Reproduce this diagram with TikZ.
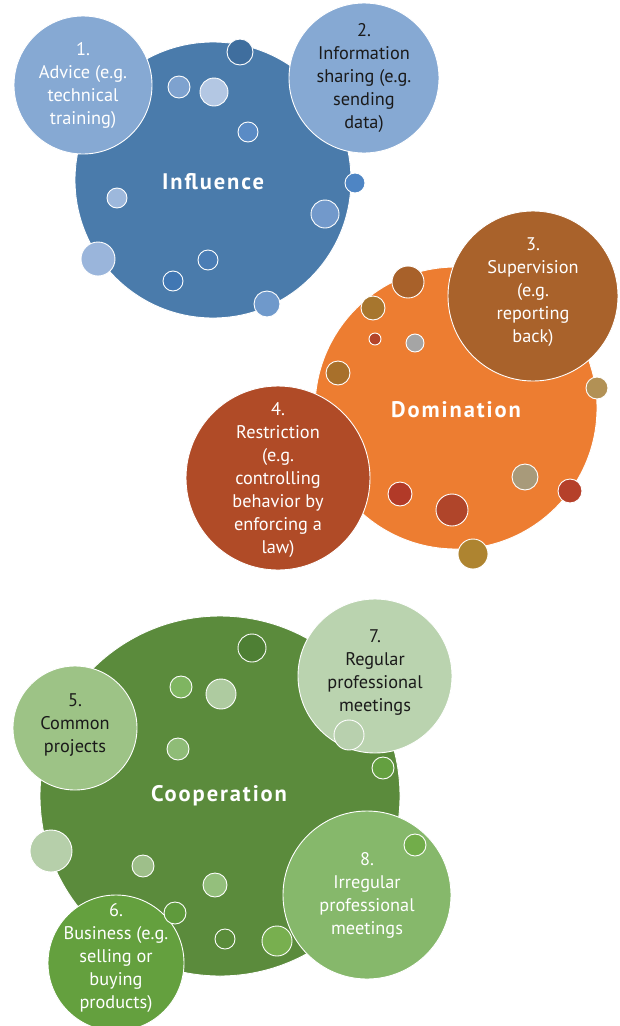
\documentclass[tikz,border=0pt]{standalone}
\usepackage{fontspec}
\setmainfont{PT Sans}
\newfontfamily\headfont[LetterSpace=8.5]{PT Sans}
\definecolor{infbig}{HTML}{4A7BAB}
\definecolor{inflight}{HTML}{86A9D3}
\definecolor{dombig}{HTML}{ED7D31}
\definecolor{supcol}{HTML}{A9622B}
\definecolor{rescol}{HTML}{B04B27}
\definecolor{coobig}{HTML}{5B8B3C}
\definecolor{comcol}{HTML}{9DC386}
\definecolor{buscol}{HTML}{64A03E}
\definecolor{regcol}{HTML}{BAD3AF}
\definecolor{irrcol}{HTML}{86B86B}
\definecolor{darktext}{HTML}{1A1A1A}
\begin{document}
\begin{tikzpicture}[x=1pt, y=-1pt,
  bubble/.style={circle,draw=white,line width=0.9pt,inner sep=0pt,minimum size=2*#1 pt},
  dot/.style={circle,draw=white,line width=0.9pt,inner sep=0pt,minimum size=2*#1 pt},
  bubble text/.style={align=center,text=white,font=\fontsize{18.3}{23}\selectfont},
  title/.style={text=white,font=\headfont\bfseries\fontsize{22.5}{26}\selectfont}]
\useasboundingbox (0,0) rectangle (620,1026);
% influence
\node [bubble=138, fill=infbig] (inf) at (213,180) {};
\node [bubble=69, fill=inflight] (adv) at (83,85) {};
\node [bubble=75, fill=inflight] (info) at (364,78) {};
\node [bubble text] (adv-txt) at (adv) {1.\\Advice (e.g.\\technical\\training)};
\node [bubble text, text=darktext] (info-txt) at (info) {2.\\Information\\sharing (e.g.\\sending\\data)};
\node [title] (inf-txt) at (213,182) {Influence};
% domination
\node [bubble=141, fill=dombig] (dom) at (456,408) {};
\node [bubble=85, fill=supcol] (sup) at (533,296) {};
\node [bubble=92, fill=rescol] (res) at (278,478) {};
\node [bubble text] (sup-txt) at (533,292) {3.\\Supervision\\(e.g.\\reporting\\back)};
\node [bubble text] (res-txt) at (278,480) {4.\\Restriction\\(e.g.\\controlling\\behavior by\\enforcing a\\law)};
\node [title] (dom-txt) at (456,410) {Domination};
% cooperation
\node [bubble=180, fill=coobig] (coo) at (220,796) {};
\node [bubble=62, fill=comcol] (com) at (75,728) {};
\node [bubble=77, fill=regcol] (reg) at (375,676) {};
\node [bubble=84, fill=irrcol] (irr) at (367,895) {};
\node [bubble=68, fill=buscol] (bus) at (116,963) {};
\node [bubble text, text=darktext] (com-txt) at (75,725) {5.\\Common\\projects};
\node [bubble text, text=darktext] (reg-txt) at (375,673) {7.\\Regular\\professional\\meetings};
\node [bubble text] (irr-txt) at (367,895) {8.\\Irregular\\professional\\meetings};
\node [bubble text] (bus-txt) at (116,958) {6.\\Business (e.g.\\selling or\\buying\\products)};
\node [title] (coo-txt) at (219,796) {Cooperation};
% small dots
\foreach \name/\pos/\r/\col in {
  ia/{(240,52)}/13/3F6E9E, ib/{(179,87)}/11/7EA2CF, ic/{(214,92)}/14/B3C7E3,
  id/{(248,132)}/10/5A8BC5, ie/{(355,183)}/10/4E85C4, if/{(117,198)}/10/9DB8DC,
  ig/{(325,214)}/14/7299CB, ih/{(98,259)}/17/9AB5DB, ii/{(208,260)}/10/4A7DB5,
  ij/{(173,281)}/10/4177B3, ik/{(267,304)}/13/6F99CB,
  da/{(408,282)}/16/A8612A, db/{(373,308)}/12/A7762E, dc/{(375,339)}/6/B4452A,
  dd/{(415,343)}/9/A5A5A5, de/{(338,373)}/12/A8702B, df/{(597,388)}/11/B29155,
  dg/{(525,477)}/13/A89A7A, dh/{(400,494)}/12/B23A28, di/{(452,510)}/16/B0452A,
  dj/{(570,491)}/12/B5402A, dk/{(473,554)}/15/AE8430,
  ca/{(252,648)}/14/4E7F34, cb/{(181,687)}/11/7FB561, cc/{(221,694)}/15/AECBA0,
  cd/{(349,735)}/15/B8D0AE, ce/{(178,749)}/11/8FBC77, cf/{(383,768)}/11/64A040,
  cg/{(51,851)}/21/B6CFAA, ch/{(143,866)}/11/9EBF8A, ci/{(215,885)}/12/94BF7C,
  cj/{(175,913)}/11/5F9A3C, ck/{(225,939)}/10/5A8C3A, cl/{(277,941)}/15/78AF4F,
  cm/{(415,845)}/11/72AD4A}
{
  \definecolor{dotcol}{HTML}{\col}
  \node [dot=\r, fill=dotcol] (\name) at \pos {};
}
\end{tikzpicture}
\end{document}
